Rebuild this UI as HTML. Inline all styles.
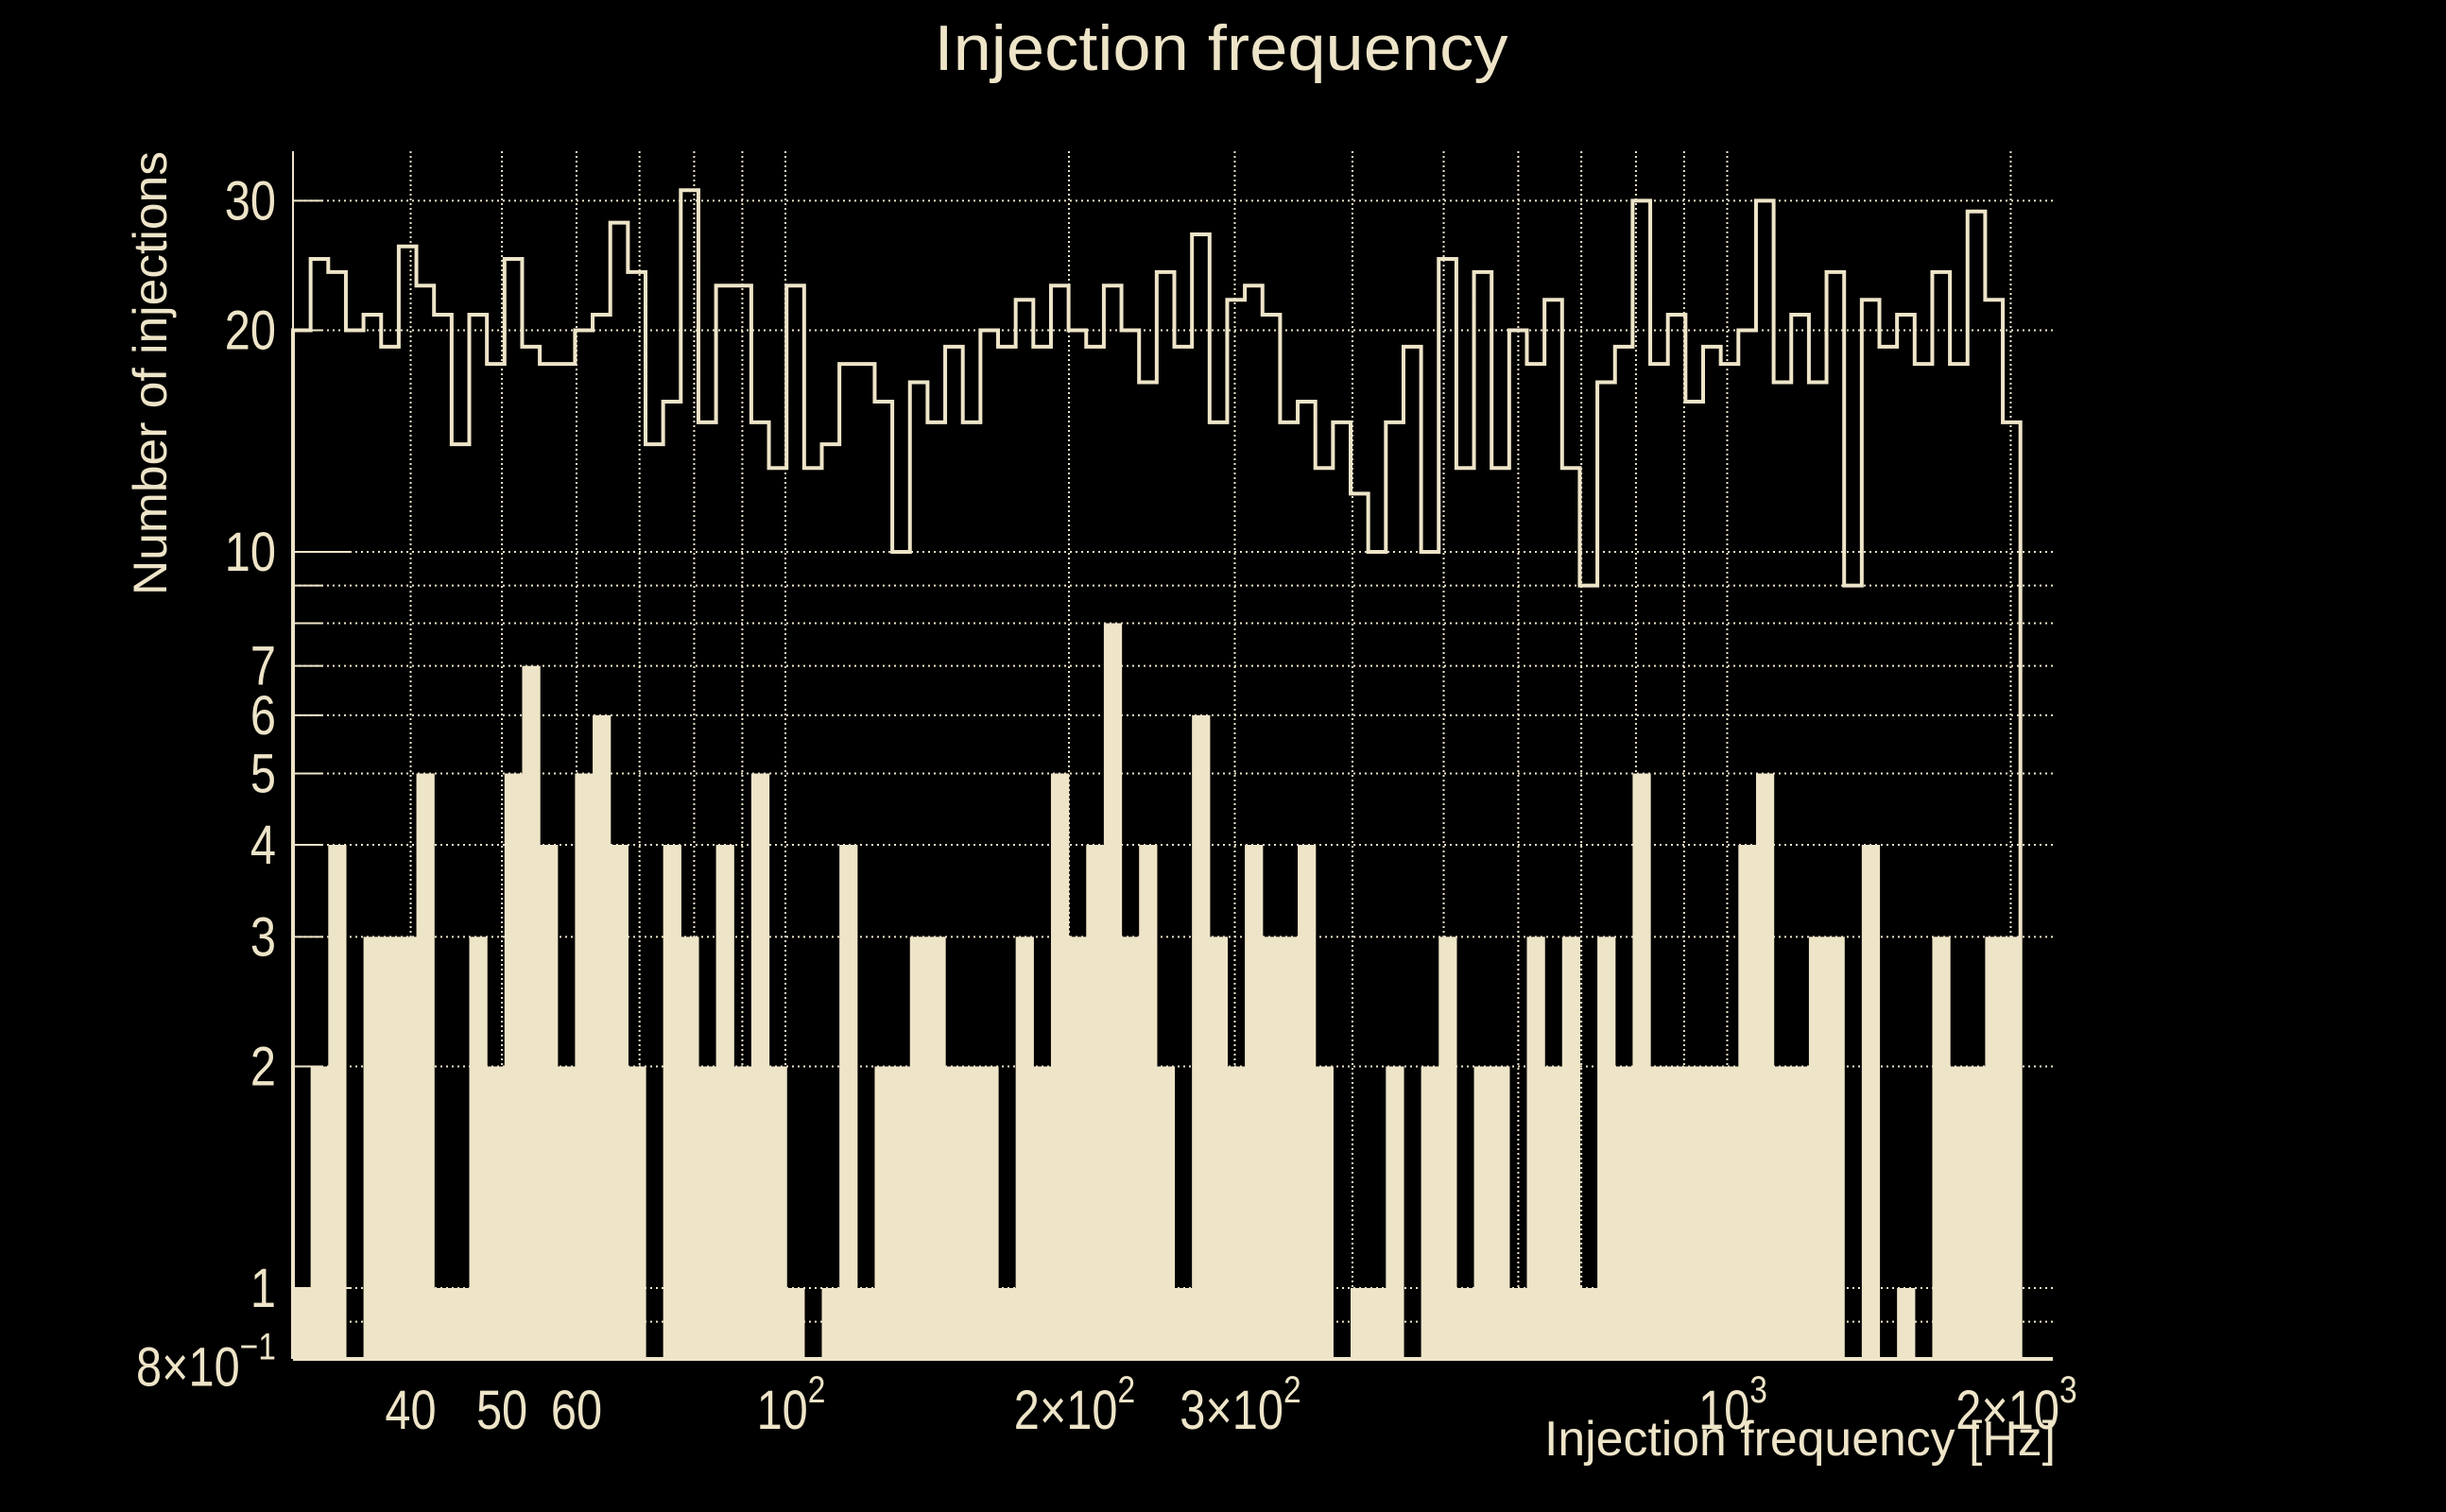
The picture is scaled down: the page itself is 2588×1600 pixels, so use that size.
<!DOCTYPE html>
<html><head><meta charset="utf-8"><style>
html,body{margin:0;padding:0;background:#000;}
svg{display:block;}
text{font-family:"Liberation Sans",sans-serif;fill:#EEE4C8;}
</style></head><body>
<svg id="chart" width="2588" height="1600" viewBox="0 0 2588 1600" xmlns="http://www.w3.org/2000/svg">
<rect width="2588" height="1600" fill="#000"/>
<text x="1292" y="74" font-size="68" text-anchor="middle" textLength="607" lengthAdjust="spacingAndGlyphs">Injection frequency</text>
<text transform="translate(176,630) rotate(-90)" x="0" y="0" font-size="50" textLength="470" lengthAdjust="spacingAndGlyphs">Number of injections</text>
<text x="2175" y="1540" font-size="52" text-anchor="end" textLength="541" lengthAdjust="spacingAndGlyphs">Injection frequency [Hz]</text>
<g id="grid"></g>
<g id="bars"></g>
<path id="outline" fill="none" stroke="#EEE4C8" stroke-width="4"/>
<g id="axes"></g>
<g id="ticks"></g>
</svg>
<script>
const fMin = 30;
const fMax = 2048;
const filledCounts = [1,2,4,0,3,3,3,5,1,1,3,2,5,7,4,2,5,6,4,2,0,4,3,2,4,2,5,2,1,0,1,4,1,2,2,3,3,2,2,2,1,3,2,5,3,4,8,3,4,2,1,6,3,2,4,3,3,4,2,0,1,1,2,0,2,3,1,2,2,1,3,2,3,1,3,2,5,2,2,2,2,2,4,5,2,2,3,3,0,4,0,1,0,3,2,2,3,3];
const outlineCounts = [20,25,24,20,21,19,26,23,21,14,21,18,25,19,18,18,20,21,28,24,14,16,31,15,23,23,15,13,23,13,14,18,18,16,10,17,15,19,15,20,19,22,19,23,20,19,23,20,17,24,19,27,15,22,23,21,15,16,13,15,12,10,15,19,10,25,13,24,13,20,18,22,13,9,17,19,30,18,21,16,19,18,20,30,17,21,17,24,9,22,19,21,18,24,18,29,22,15];
const yTickValues = [0.8,1,2,3,4,5,6,7,10,20,30];
const yTickBase = ["8×10","1","2","3","4","5","6","7","10","20","30"];
const yTickSup = ["−1","","","","","","","","","",""];
const yGridValues = [0.9,1,2,3,4,5,6,7,8,9,10,20,30];
const xTickValues = [40,50,60,100,200,300,1000,2000];
const xTickBase = ["40","50","60","10","2×10","3×10","10","2×10"];
const xTickSup = ["","","","2","2","2","3","3"];
const xGridValues = [40,50,60,70,80,90,100,200,300,400,500,600,700,800,900,1000,2000];

const X0 = 310, X1 = 2137.7, XR = 2172, YB = 1438, YT = 160;
const DEC_X = (X1 - X0) / (Math.log10(fMax) - Math.log10(fMin));
const DEC_Y = 779;
function xs(f){ return X0 + (Math.log10(f) - Math.log10(fMin)) * DEC_X; }
function ys(v){ return 1363 - Math.log10(v) * DEC_Y; }
const NS = "http://www.w3.org/2000/svg";
function mk(tag, parent){ const e = document.createElementNS(NS, tag); parent.appendChild(e); return e; }
const C = "#EEE4C8";
const nb = filledCounts.length;
const lmin = Math.log10(fMin), lmax = Math.log10(fMax);
function edge(i){ return Math.pow(10, lmin + (lmax - lmin) * i / nb); }

const grid = document.getElementById('grid');
yGridValues.forEach(v => {
  const l = mk('line', grid);
  
  
  l.setAttribute('x1', X0); l.setAttribute('x2', XR);
  l.setAttribute('y1', ys(v)); l.setAttribute('y2', ys(v));
  l.setAttribute('stroke', C); l.setAttribute('stroke-width', 2); l.setAttribute('stroke-dasharray', '2 4');
});
xGridValues.forEach(f => {
  const l = mk('line', grid);
  
  
  l.setAttribute('x1', xs(f)); l.setAttribute('x2', xs(f));
  l.setAttribute('y1', YT); l.setAttribute('y2', YB);
  l.setAttribute('stroke', C); l.setAttribute('stroke-width', 2); l.setAttribute('stroke-dasharray', '2 3');
});

const bars = document.getElementById('bars');
filledCounts.forEach((v, i) => {
  if (v <= 0.8) return;
  const r = mk('rect', bars);
  
  
  const xa = xs(edge(i)), xb = xs(edge(i + 1));
  r.setAttribute('x', xa); r.setAttribute('width', xb - xa + 0.6);
  r.setAttribute('y', ys(v)); r.setAttribute('height', YB - ys(v));
  r.setAttribute('fill', C);
});

let d = 'M' + xs(edge(0)) + ' ' + YB;
outlineCounts.forEach((v, i) => {
  d += ' L' + xs(edge(i)) + ' ' + ys(v) + ' L' + xs(edge(i + 1)) + ' ' + ys(v);
});
d += ' L' + xs(edge(nb)) + ' ' + YB;
document.getElementById('outline').setAttribute('d', d);

const axes = document.getElementById('axes');
const ax = mk('line', axes);


ax.setAttribute('x1', X0); ax.setAttribute('x2', XR); ax.setAttribute('y1', YB); ax.setAttribute('y2', YB);
ax.setAttribute('stroke', C); ax.setAttribute('stroke-width', 4);
const ay = mk('line', axes);


ay.setAttribute('x1', X0); ay.setAttribute('x2', X0); ay.setAttribute('y1', YT); ay.setAttribute('y2', YB);
ay.setAttribute('stroke', C); ay.setAttribute('stroke-width', 2);
yGridValues.forEach(v => {
  const t = mk('line', axes);
  
  
  const major = (v === 1 || v === 10);
  t.setAttribute('x1', X0); t.setAttribute('x2', X0 + (major ? 62 : 32));
  t.setAttribute('y1', ys(v)); t.setAttribute('y2', ys(v));
  t.setAttribute('stroke', C); t.setAttribute('stroke-width', 2);
});

function label(parent, x, y, anchor, base, sup, name){
  const t = mk('text', parent);
  
  
  t.setAttribute('x', x); t.setAttribute('y', y);
  t.setAttribute('font-size', 58); t.setAttribute('text-anchor', anchor);
  t.setAttribute('transform', 'translate(' + x + ',0) scale(0.84,1) translate(' + (-x) + ',0)');
  const a = mk('tspan', t); a.textContent = base;
  if (sup) { const b = mk('tspan', t); b.setAttribute('dy', -28); b.setAttribute('font-size', 40); b.textContent = sup; }
}
const ticks = document.getElementById('ticks');
yTickValues.forEach((v, i) => {
  label(ticks, 292, ys(v) + 20 + (yTickSup[i] ? 8 : 0), 'end', yTickBase[i], yTickSup[i], 'y-tick-label');
});
xTickValues.forEach((f, i) => {
  label(ticks, xs(f) + (xTickSup[i] ? 6 : 0), 1512, 'middle', xTickBase[i], xTickSup[i], 'x-tick-label');
});
</script>
</body></html>
